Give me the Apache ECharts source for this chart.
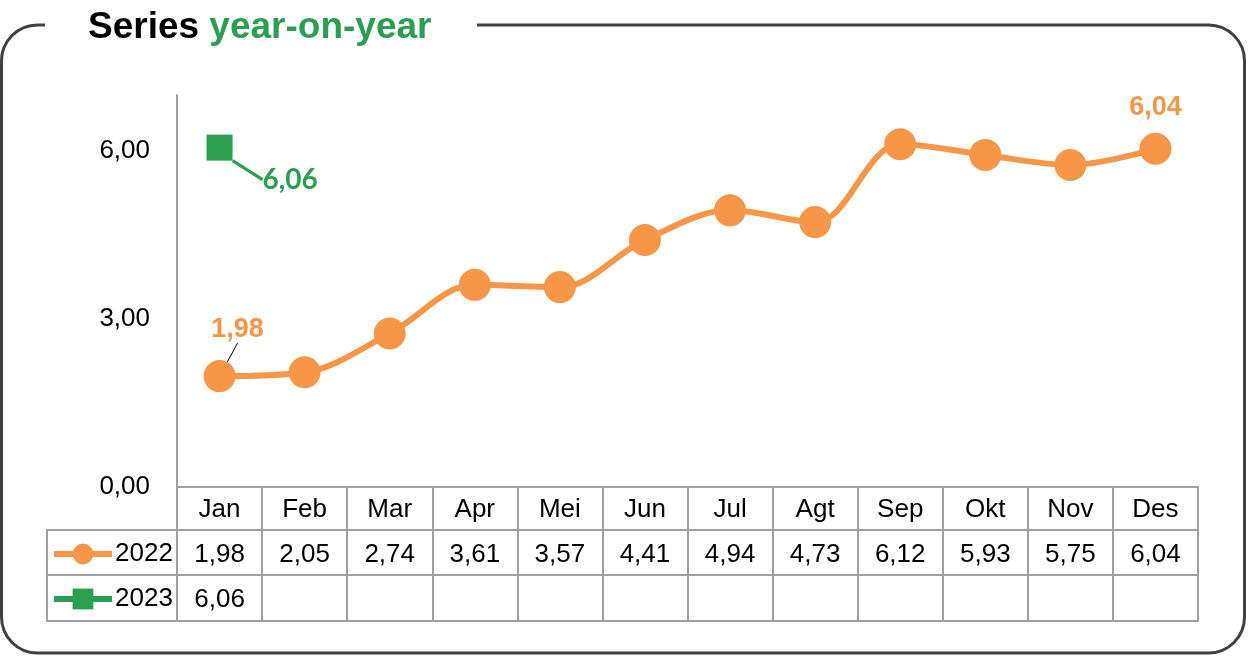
<!DOCTYPE html>
<html>
<head>
<meta charset="utf-8">
<script src="https://cdn.jsdelivr.net/npm/echarts@6/dist/echarts.min.js"></script>
<style>
  html, body { margin: 0; padding: 0; background: #fff; }
  #main { width: 1248px; height: 656px; }
</style>
</head>
<body>
<div id="main"></div>
<script>
var months = ['Jan', 'Feb', 'Mar', 'Apr', 'Mei', 'Jun', 'Jul', 'Agt', 'Sep', 'Okt', 'Nov', 'Des'];
var values2022 = [1.98, 2.05, 2.74, 3.61, 3.57, 4.41, 4.94, 4.73, 6.12, 5.93, 5.75, 6.04];
var values2023 = [6.06, null, null, null, null, null, null, null, null, null, null, null];
var yMin = 0, yMax = 7, yStep = 3;

var orange = '#F79646';
var green = '#2A9F50';
var gridColor = '#A0A0A0';
var sans = '"Liberation Sans", Arial, sans-serif';
var fs = 26;

function fmt(v) {
    if (v === null || v === undefined) return '';
    return v.toFixed(2).replace('.', ',');
}

var myChart = echarts.init(document.getElementById('main'));

var lastIdx = values2022.length - 1;
var data2022 = values2022.map(function (v, i) {
    if (i === 0) {
        return {value: v, label: {show: true, position: 'top'}, labelLine: {show: true}};
    }
    if (i === lastIdx) {
        return {value: v, label: {show: true, position: 'top', distance: 12}, labelLine: {show: false}};
    }
    return {value: v, label: {show: false}, labelLine: {show: false}};
});

function tableAxis(offset, labels) {
    return {
        type: 'category',
        data: months,
        position: 'bottom',
        offset: offset,
        boundaryGap: true,
        axisLine: {show: true, lineStyle: {color: gridColor, width: 2}},
        axisTick: {show: false},
        axisLabel: {
            show: !!labels,
            interval: 0,
            margin: 12,
            fontSize: fs,
            fontFamily: sans,
            color: '#000',
            formatter: function (val, idx) { return labels ? fmt(labels[idx]) : ''; }
        }
    };
}

var option = {
    animation: false,
    title: {
        left: 83,
        top: 4,
        text: '{a|Series }{b|year-on-year}',
        textStyle: {
            rich: {
                a: {fontSize: 37, fontWeight: 'bold', fontFamily: sans, color: '#000'},
                b: {fontSize: 37, fontWeight: 'bold', fontFamily: sans, color: green}
            }
        }
    },
    legend: {
        data: ['2022', '2023'],
        orient: 'vertical',
        left: 46,
        top: 536,
        itemWidth: 58,
        itemHeight: 26,
        itemGap: 19,
        lineStyle: {width: 6},
        textStyle: {fontSize: fs, lineHeight: 26, fontFamily: sans, color: '#000', padding: [0, 0, 0, -2]}
    },
    grid: {left: 177, right: 50, top: 95, bottom: 169},
    xAxis: [
        {
            type: 'category',
            data: months,
            boundaryGap: true,
            axisLine: {lineStyle: {color: gridColor, width: 2}},
            axisTick: {show: true, interval: 0, length: 134, lineStyle: {color: gridColor, width: 2}},
            axisLabel: {interval: 0, margin: 10, fontSize: fs, fontFamily: sans, color: '#000'}
        },
        tableAxis(43, values2022),
        tableAxis(88, values2023),
        tableAxis(134, null)
    ],
    yAxis: {
        type: 'value',
        min: yMin,
        max: yMax,
        interval: yStep,
        splitLine: {show: false},
        axisLine: {show: true, lineStyle: {color: gridColor, width: 2}},
        axisTick: {show: false},
        axisLabel: {
            margin: 27,
            fontSize: fs,
            fontFamily: sans,
            color: '#000',
            showMaxLabel: false,
            formatter: function (v) { return fmt(v); }
        }
    },
    series: [
        {
            name: '2022',
            type: 'line',
            data: data2022,
            smooth: 0.35,
            symbol: 'circle',
            symbolSize: 32,
            color: orange,
            lineStyle: {width: 6, color: orange},
            itemStyle: {color: orange},
            label: {
                formatter: function (p) { return fmt(p.value); },
                fontSize: 27,
                fontWeight: 'bold',
                fontFamily: sans,
                color: orange
            },
            labelLine: {lineStyle: {color: '#000', width: 1}},
            labelLayout: function (p) {
                if (p.dataIndex === 0) return {dx: 18, dy: -12};
                return {};
            },
            z: 3
        },
        {
            name: '2023',
            type: 'line',
            data: values2023,
            symbol: 'rect',
            symbolSize: 26,
            color: green,
            lineStyle: {width: 6, color: green},
            itemStyle: {color: green},
            label: {
                show: true,
                position: 'right',
                formatter: function (p) { return fmt(p.value); },
                fontSize: 28,
                fontWeight: 'bold',
                fontFamily: 'Lato, "Open Sans", sans-serif',
                color: green
            },
            labelLine: {show: true, lineStyle: {color: green, width: 3}},
            labelLayout: {dx: 25, dy: 32},
            z: 4
        }
    ],
    graphic: [
        {
            type: 'rect',
            shape: {x: 1.5, y: 25, width: 1243, height: 628, r: 36},
            style: {fill: null, stroke: '#404040', lineWidth: 3},
            z: -10
        },
        {
            type: 'rect',
            shape: {x: 45, y: 15, width: 432, height: 22},
            style: {fill: '#fff'},
            z: -9
        },
        {type: 'line', shape: {x1: 47, y1: 530, x2: 177, y2: 530}, style: {stroke: gridColor, lineWidth: 2}},
        {type: 'line', shape: {x1: 47, y1: 575, x2: 177, y2: 575}, style: {stroke: gridColor, lineWidth: 2}},
        {type: 'line', shape: {x1: 47, y1: 621, x2: 177, y2: 621}, style: {stroke: gridColor, lineWidth: 2}},
        {type: 'line', shape: {x1: 47, y1: 529, x2: 47, y2: 622}, style: {stroke: gridColor, lineWidth: 2}}
    ]
};

myChart.setOption(option);
</script>
</body>
</html>
